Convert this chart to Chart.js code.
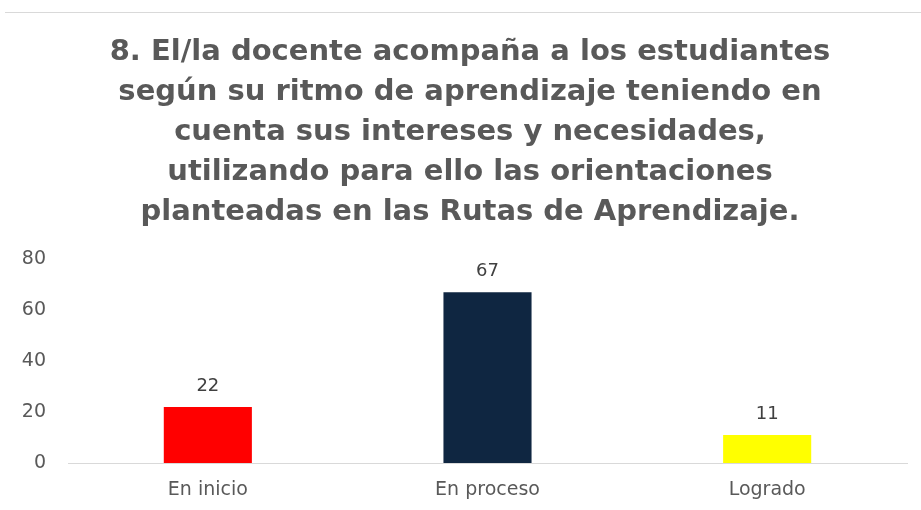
<!DOCTYPE html>
<html>
<head>
<meta charset="utf-8">
<script src="https://cdn.jsdelivr.net/npm/chart.js@4"></script>
<style>
  html, body { margin: 0; padding: 0; background: #fff; }
  #wrap { position: relative; width: 921px; height: 510px; }
  #topLine { position: absolute; left: 5px; right: 0; top: 12px; border-top: 1px solid #d9d9d9; }
  canvas { position: absolute; left: 0; top: 0; }
</style>
</head>
<body>
<div id="wrap">
  <div id="topLine"></div>
  <canvas id="chart" width="921" height="510"></canvas>
</div>
<script>
// Datos
const categorias = ['En inicio', 'En proceso', 'Logrado'];
const valores = [22, 67, 11];
const colores = ['#ff0000', '#0f2641', '#ffff00'];
const ticksY = [0, 20, 40, 60, 80];
const titulo = [
    '8. El/la docente acompaña a los estudiantes',
    'según su ritmo de aprendizaje teniendo en',
    'cuenta sus intereses y necesidades,',
    'utilizando para ello las orientaciones',
    'planteadas en las Rutas de Aprendizaje.'
];

const fuente = '"DejaVu Sans", sans-serif';

// Título centrado sobre todo el gráfico
const tituloPlugin = {
    id: 'tituloPlugin',
    afterDraw(chart) {
        const ctx = chart.ctx;
        ctx.save();
        ctx.font = 'bold 29px ' + fuente;
        ctx.fillStyle = '#595959';
        ctx.textAlign = 'center';
        ctx.textBaseline = 'alphabetic';
        titulo.forEach((linea, i) => {
            ctx.fillText(linea, 470, 60 + i * 40);
        });
        ctx.restore();
    }
};

// Etiquetas de datos encima de cada barra
const etiquetas = {
    id: 'etiquetas',
    afterDatasetsDraw(chart) {
        const ctx = chart.ctx;
        const meta = chart.getDatasetMeta(0);
        ctx.save();
        ctx.font = '18px ' + fuente;
        ctx.fillStyle = '#404040';
        ctx.textAlign = 'center';
        ctx.textBaseline = 'alphabetic';
        meta.data.forEach((bar, i) => {
            ctx.fillText(chart.data.datasets[0].data[i], bar.x, bar.y - 16);
        });
        ctx.restore();
    }
};

const ctx = document.getElementById('chart').getContext('2d');
new Chart(ctx, {
    type: 'bar',
    data: {
        labels: categorias,
        datasets: [{
            data: valores,
            backgroundColor: colores,
            categoryPercentage: 1,
            barPercentage: 0.315
        }]
    },
    options: {
        responsive: false,
        animation: false,
        layout: { padding: { top: 259, left: 0, right: 14, bottom: 0 } },
        plugins: {
            legend: { display: false },
            tooltip: { enabled: false },
            title: { display: false }
        },
        scales: {
            x: {
                grid: { display: false },
                border: { display: true, color: '#d9d9d9' },
                afterFit: axis => { axis.height = 47; },
                ticks: { color: '#595959', font: { family: fuente, size: 19 }, padding: 8 }
            },
            y: {
                min: 0,
                max: 80,
                afterBuildTicks: axis => { axis.ticks = ticksY.map(v => ({ value: v })); },
                grid: { display: false },
                border: { display: false },
                afterFit: axis => { axis.width = 68; },
                ticks: { color: '#595959', font: { family: fuente, size: 19 }, padding: 14 }
            }
        }
    },
    plugins: [etiquetas, tituloPlugin]
});
</script>
</body>
</html>
